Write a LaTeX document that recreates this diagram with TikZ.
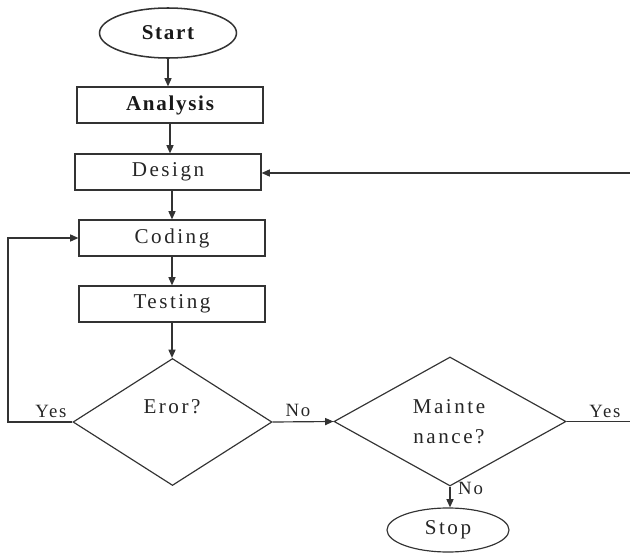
\documentclass[tikz,border=0pt]{standalone}
\usepackage{fontspec}
\setmainfont{Liberation Serif}
\usetikzlibrary{shapes.geometric,arrows.meta}
\begin{document}
\begin{tikzpicture}[x=0.03cm,y=-0.03cm,
  ink/.style={draw=black!80,line width=1pt},
  proc/.style={ink,rectangle,minimum width=5.58cm,minimum height=1.08cm,inner sep=0pt},
  term/.style={ink,ellipse,inner sep=0pt},
  decision/.style={ink,diamond,inner sep=0pt},
  txt/.style={font=\fontsize{18}{20}\selectfont\addfontfeature{LetterSpace=12},text=black!85},
  boldtxt/.style={font=\bfseries\fontsize{18}{20}\selectfont\addfontfeature{LetterSpace=8},text=black!90},
  lbl/.style={font=\fontsize{16}{18}\selectfont\addfontfeature{LetterSpace=10},text=black!85,inner sep=0pt},
  flow/.style={ink,-{Triangle[length=7pt,width=6pt]}},
  plain/.style={ink}]
  \useasboundingbox (0,0) rectangle (630,554);

  % terminals and process steps
  \node[term,line width=1.3pt,minimum width=4.11cm,minimum height=1.5cm,boldtxt] (start) at (168,33) {Start};
  \node[proc,boldtxt] (analysis) at (170,105) {Analysis};
  \node[proc,txt] (design) at (168,172) {Design};
  \node[proc,txt] (coding) at (172,238) {Coding};
  \node[proc,txt] (testing) at (172,304) {Testing};

  % decisions
  \node[decision,minimum width=5.97cm,minimum height=3.81cm] (error) at (172.5,422) {};
  \node[txt] (errtext) at (172,407) {Eror?};
  \node[decision,minimum width=6.96cm,minimum height=3.87cm] (maint) at (450,421.5) {};
  \node[txt] (mt1) at (449,407) {Mainte};
  \node[txt] (mt2) at (449,437) {nance?};

  \node[term,minimum width=3.66cm,minimum height=1.32cm,txt] (stop) at (448,530) {Stop};

  % free ends of the lines leaving the picture on the right
  \coordinate (loopleft) at (8,422);
  \coordinate (yesend) at (630,421.5);
  \coordinate (backin) at (630,173);

  % main flow
  \draw[flow] (start.south) -- (start.south |- analysis.north);
  \draw[flow] (analysis.south) -- (analysis.south |- design.north);
  \draw[flow] (design.south -| coding.north) -- (coding.north);
  \draw[flow] (coding.south) -- (testing.north);
  \draw[flow] (testing.south) -- (testing.south |- error.north);
  \draw[flow] (error.west) -- (loopleft) |- (coding.west);
  \draw[flow] (error.east) -- (maint.west);
  \draw[plain] (maint.east) -- (yesend);
  \draw[flow] (backin) -- (design.east |- backin);
  \draw[flow] (maint.south) -- (maint.south |- stop.north);

  % branch labels
  \node[lbl] (yes1) at (51,411) {Yes};
  \node[lbl] (no1) at (298,410) {No};
  \node[lbl] (yes2) at (605,411) {Yes};
  \node[lbl,anchor=west] (no2) at (458,488) {No};
\end{tikzpicture}
\end{document}
